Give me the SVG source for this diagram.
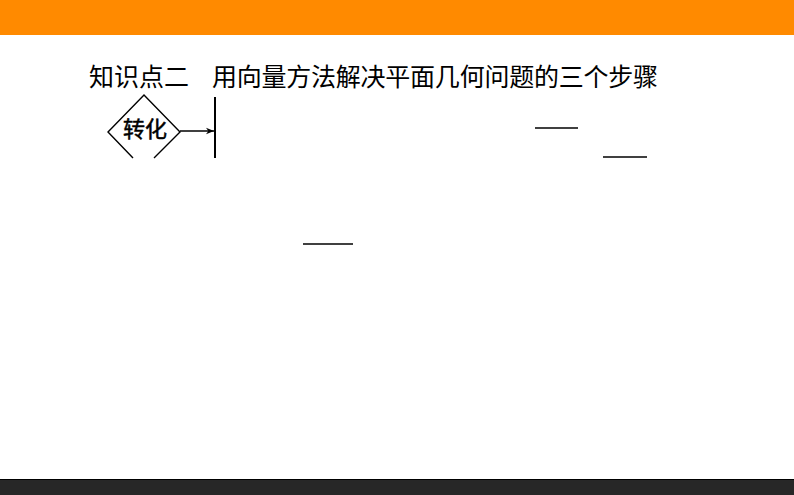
<svg xmlns="http://www.w3.org/2000/svg" width="794" height="495" viewBox="0 0 794 495">
<style>
.t{font-family:"Noto Sans CJK SC","Noto Sans",sans-serif;fill:#000}
.ln{stroke:#000;stroke-width:1.4;fill:none}
</style>
<defs>
<marker id="ah" viewBox="0 0 10 10" refX="10" refY="5" markerWidth="10" markerHeight="8" markerUnits="userSpaceOnUse" orient="auto">
<path d="M0,1 L10,5 L0,9 L3,5 Z" fill="#000"/>
</marker>
</defs>
<rect x="0" y="0" width="794" height="495" fill="#fff"/>
<rect x="0" y="0" width="794" height="35" fill="#FF8A00"/>
<rect x="0" y="479" width="794" height="16" fill="#272727"/>
<line x1="0" y1="479.5" x2="794" y2="479.5" stroke="#000" stroke-width="1"/>
<g id="title">
<text class="t" x="89" y="86" font-size="25">知识点二</text>
<text class="t" x="212" y="86" font-size="25" textLength="446" lengthAdjust="spacing">用向量方法解决平面几何问题的三个步骤</text>
</g>
<g id="node-zhuanhua">
<path class="ln" d="M133,158 L108,132 L144,95 L180,132 L154,158"/>
<text class="t" x="145" y="137" font-size="22" stroke="#000" stroke-width="0.5" text-anchor="middle">转化</text>
</g>
<g id="node-bar">
<line x1="215" y1="97" x2="215" y2="158" stroke="#000" stroke-width="2"/>
</g>
<g id="connectors">
<line class="ln" x1="180" y1="131" x2="214" y2="131" marker-end="url(#ah)"/>
</g>
<g id="blanks">
<line x1="535" y1="128" x2="578" y2="128" stroke="#000" stroke-width="1.5"/>
<line x1="603" y1="157" x2="647" y2="157" stroke="#000" stroke-width="1.5"/>
<line x1="303" y1="244" x2="353" y2="244" stroke="#000" stroke-width="1.5"/>
</g>
</svg>
